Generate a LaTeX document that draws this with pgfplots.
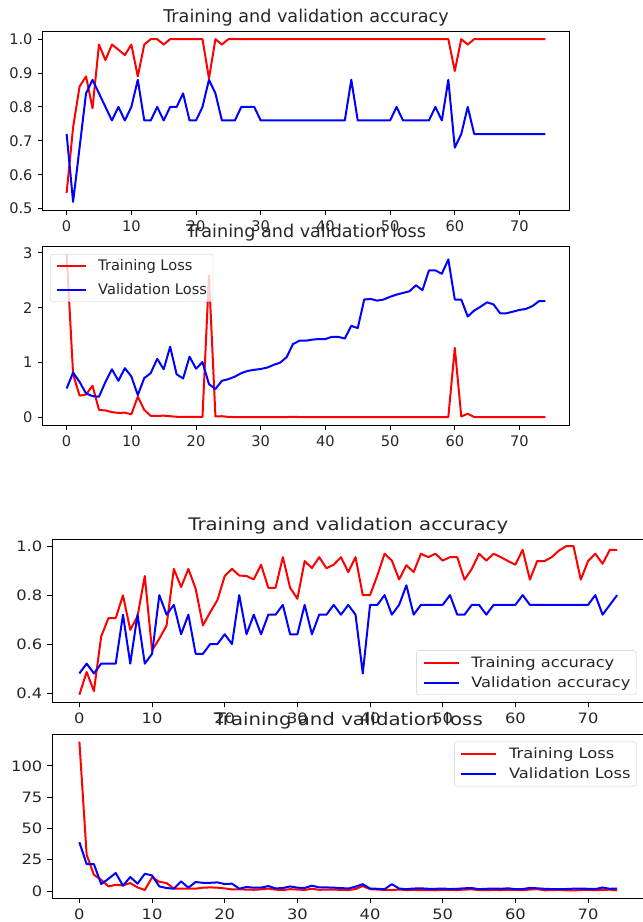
\documentclass[border=0pt]{standalone}
\usepackage{fontspec}
\setmainfont{DejaVu Sans}
\newfontfamily\stretchfont[FakeStretch=1.14]{DejaVu Sans}
\usepackage{pgfplots}
\pgfplotsset{compat=1.18}

\newcommand\tfont{\fontsize{14.6bp}{17bp}\selectfont}
\newcommand\ttfont{\fontsize{17.6bp}{21bp}\selectfont}
\newcommand\bfont{\stretchfont\fontsize{14.3bp}{17bp}\selectfont}
\newcommand\btfont{\stretchfont\fontsize{17.3bp}{21bp}\selectfont}

\definecolor{txt}{HTML}{262626}
\definecolor{legframe}{HTML}{CCCCCC}

\pgfplotsset{
 mpl/.style={
  scale only axis,
  xmin=-3.7, xmax=77.7,
  tick align=outside, tick pos=left,
  major tick length=5bp,
  tick style={black, line width=0.9bp},
  axis line style={black, line width=0.9bp},
  xtick={0,10,20,30,40,50,60,70},
  xticklabels={0,10,20,30,40,50,60,70},
  xticklabel style={inner sep=0pt, yshift=-5bp, text=txt},
  yticklabel style={inner sep=0pt, xshift=-5bp, text=txt},
  title style={at={(0.5,1)}, anchor=base, yshift=3bp, inner sep=0pt, text=txt},
  legend cell align=left,
  legend style={draw=legframe, fill=white, fill opacity=0.8,
    text opacity=1, rounded corners=2.5bp, inner xsep=6bp, text=txt,
    nodes={inner sep=0pt, text height=12bp, text depth=3bp}},
 },
 toppanel/.style={mpl, width=526.6bp, height=179bp,
  tick label style={font=\tfont}, title style={font=\ttfont},
  legend style={font=\tfont, inner ysep=4.5bp, row sep=8.3bp, column sep=11bp},
  legend image code/.code={\draw[##1] (0bp,0bp) -- (29bp,0bp);}},
 botpanel/.style={mpl, width=591.5bp,
  tick label style={font=\bfont}, title style={font=\btfont},
  legend style={font=\bfont, inner ysep=4.6bp, row sep=5bp, column sep=11.7bp},
  legend image code/.code={\draw[##1] (0bp,0bp) -- (35bp,0bp);}},
 rl/.style={red, line width=2bp, line join=round},
 bl/.style={blue, line width=2bp, line join=round},
}

\begin{document}
\begin{tikzpicture}
\useasboundingbox (0,0) rectangle (643bp,922bp);

% ---------------- Panel 1 ----------------
\begin{axis}[toppanel, at={(42.7bp,712bp)}, anchor=south west,
  ymin=0.496, ymax=1.024,
  ytick={0.5,0.6,0.7,0.8,0.9,1.0}, yticklabels={0.5,0.6,0.7,0.8,0.9,1.0},
  title={Training and validation accuracy}]
\addplot[rl] coordinates {(0,0.546)(1,0.74)(2,0.86)(3,0.89)(4,0.796)(5,0.984)(6,0.938)(7,0.984)(8,0.969)(9,0.953)(10,0.984)(11,0.89)(12,0.984)(13,1)(14,1)(15,0.984)(16,1)(17,1)(18,1)(19,1)(20,1)(21,1)(22,0.884)(23,1)(24,0.984)(25,1)(26,1)(27,1)(28,1)(29,1)(30,1)(31,1)(32,1)(33,1)(34,1)(35,1)(36,1)(37,1)(38,1)(39,1)(40,1)(41,1)(42,1)(43,1)(44,1)(45,1)(46,1)(47,1)(48,1)(49,1)(50,1)(51,1)(52,1)(53,1)(54,1)(55,1)(56,1)(57,1)(58,1)(59,1)(60,0.906)(61,1)(62,0.984)(63,1)(64,1)(65,1)(66,1)(67,1)(68,1)(69,1)(70,1)(71,1)(72,1)(73,1)(74,1)};
\addplot[bl] coordinates {(0,0.72)(1,0.52)(2,0.68)(3,0.84)(4,0.88)(5,0.84)(6,0.80)(7,0.76)(8,0.80)(9,0.76)(10,0.80)(11,0.88)(12,0.76)(13,0.76)(14,0.80)(15,0.76)(16,0.80)(17,0.80)(18,0.84)(19,0.76)(20,0.76)(21,0.80)(22,0.88)(23,0.84)(24,0.76)(25,0.76)(26,0.76)(27,0.80)(28,0.80)(29,0.80)(30,0.76)(31,0.76)(32,0.76)(33,0.76)(34,0.76)(35,0.76)(36,0.76)(37,0.76)(38,0.76)(39,0.76)(40,0.76)(41,0.76)(42,0.76)(43,0.76)(44,0.88)(45,0.76)(46,0.76)(47,0.76)(48,0.76)(49,0.76)(50,0.76)(51,0.80)(52,0.76)(53,0.76)(54,0.76)(55,0.76)(56,0.76)(57,0.80)(58,0.76)(59,0.88)(60,0.68)(61,0.72)(62,0.80)(63,0.72)(64,0.72)(65,0.72)(66,0.72)(67,0.72)(68,0.72)(69,0.72)(70,0.72)(71,0.72)(72,0.72)(73,0.72)(74,0.72)};
\end{axis}

% ---------------- Panel 2 ----------------
\begin{axis}[toppanel, at={(42.7bp,497bp)}, anchor=south west,
  ymin=-0.135, ymax=3.125,
  ytick={0,1,2,3}, yticklabels={0,1,2,3},
  title={Training and validation loss},
  legend style={at={(0.0139,0.955)}, anchor=north west}]
\addplot[rl] coordinates {(0,2.98)(1,0.79)(2,0.40)(3,0.42)(4,0.58)(5,0.14)(6,0.13)(7,0.10)(8,0.085)(9,0.09)(10,0.06)(11,0.38)(12,0.14)(13,0.03)(14,0.03)(15,0.035)(16,0.025)(17,0.015)(18,0.015)(19,0.015)(20,0.015)(21,0.015)(22,2.59)(23,0.02)(24,0.025)(25,0.012)(26,0.01)(27,0.01)(28,0.01)(29,0.01)(30,0.01)(31,0.01)(32,0.01)(33,0.01)(34,0.01)(35,0.012)(36,0.01)(37,0.01)(38,0.01)(39,0.01)(40,0.01)(41,0.01)(42,0.01)(43,0.01)(44,0.01)(45,0.01)(46,0.01)(47,0.01)(48,0.01)(49,0.01)(50,0.01)(51,0.01)(52,0.01)(53,0.01)(54,0.01)(55,0.01)(56,0.01)(57,0.01)(58,0.01)(59,0.01)(60,1.27)(61,0.02)(62,0.07)(63,0.01)(64,0.01)(65,0.01)(66,0.01)(67,0.01)(68,0.01)(69,0.01)(70,0.01)(71,0.01)(72,0.01)(73,0.01)(74,0.01)};
\addlegendentry{Training Loss}
\addplot[bl] coordinates {(0,0.53)(1,0.82)(2,0.65)(3,0.44)(4,0.39)(5,0.38)(6,0.65)(7,0.88)(8,0.67)(9,0.90)(10,0.75)(11,0.41)(12,0.72)(13,0.81)(14,1.07)(15,0.88)(16,1.29)(17,0.79)(18,0.71)(19,1.11)(20,0.89)(21,1.01)(22,0.61)(23,0.52)(24,0.67)(25,0.70)(26,0.745)(27,0.81)(28,0.85)(29,0.87)(30,0.885)(31,0.91)(32,0.96)(33,1.00)(34,1.10)(35,1.34)(36,1.40)(37,1.40)(38,1.42)(39,1.43)(40,1.43)(41,1.47)(42,1.47)(43,1.44)(44,1.67)(45,1.63)(46,2.15)(47,2.16)(48,2.13)(49,2.15)(50,2.20)(51,2.24)(52,2.27)(53,2.30)(54,2.41)(55,2.32)(56,2.68)(57,2.68)(58,2.62)(59,2.88)(60,2.15)(61,2.15)(62,1.84)(63,1.95)(64,2.02)(65,2.10)(66,2.06)(67,1.90)(68,1.90)(69,1.93)(70,1.96)(71,1.98)(72,2.03)(73,2.12)(74,2.12)};
\addlegendentry{Validation Loss}
\end{axis}

% ---------------- Panel 3 ----------------
\begin{axis}[botpanel, height=163bp, at={(52.5bp,219.7bp)}, anchor=south west,
  ymin=0.362, ymax=1.028,
  ytick={0.4,0.6,0.8,1.0}, yticklabels={0.4,0.6,0.8,1.0},
  title={Training and validation accuracy},
  legend style={at={(0.9877,0.0448)}, anchor=south east}]
\addplot[rl] coordinates {(0,0.393)(1,0.486)(2,0.408)(3,0.631)(4,0.706)(5,0.706)(6,0.799)(7,0.658)(8,0.713)(9,0.878)(10,0.574)(11,0.622)(12,0.676)(13,0.907)(14,0.833)(15,0.907)(16,0.826)(17,0.676)(18,0.73)(19,0.78)(20,0.878)(21,0.907)(22,0.88)(23,0.878)(24,0.864)(25,0.924)(26,0.83)(27,0.83)(28,0.955)(29,0.83)(30,0.785)(31,0.939)(32,0.91)(33,0.955)(34,0.91)(35,0.924)(36,0.955)(37,0.894)(38,0.955)(39,0.80)(40,0.80)(41,0.88)(42,0.969)(43,0.941)(44,0.864)(45,0.922)(46,0.894)(47,0.969)(48,0.955)(49,0.969)(50,0.941)(51,0.955)(52,0.955)(53,0.863)(54,0.907)(55,0.969)(56,0.941)(57,0.969)(58,0.955)(59,0.939)(60,0.924)(61,0.985)(62,0.863)(63,0.939)(64,0.939)(65,0.955)(66,0.982)(67,1.0)(68,1.0)(69,0.863)(70,0.939)(71,0.969)(72,0.928)(73,0.985)(74,0.985)};
\addlegendentry{Training accuracy}
\addplot[bl] coordinates {(0,0.48)(1,0.52)(2,0.48)(3,0.52)(4,0.52)(5,0.52)(6,0.72)(7,0.52)(8,0.72)(9,0.52)(10,0.56)(11,0.80)(12,0.72)(13,0.76)(14,0.64)(15,0.72)(16,0.56)(17,0.56)(18,0.60)(19,0.60)(20,0.64)(21,0.60)(22,0.80)(23,0.64)(24,0.72)(25,0.64)(26,0.72)(27,0.72)(28,0.76)(29,0.64)(30,0.64)(31,0.76)(32,0.64)(33,0.72)(34,0.72)(35,0.76)(36,0.72)(37,0.76)(38,0.72)(39,0.48)(40,0.76)(41,0.76)(42,0.80)(43,0.72)(44,0.76)(45,0.84)(46,0.72)(47,0.76)(48,0.76)(49,0.76)(50,0.76)(51,0.80)(52,0.72)(53,0.72)(54,0.76)(55,0.76)(56,0.72)(57,0.76)(58,0.76)(59,0.76)(60,0.76)(61,0.80)(62,0.76)(63,0.76)(64,0.76)(65,0.76)(66,0.76)(67,0.76)(68,0.76)(69,0.76)(70,0.76)(71,0.80)(72,0.72)(73,0.76)(74,0.80)};
\addlegendentry{Validation accuracy}
\end{axis}

% ---------------- Panel 4 ----------------
\begin{axis}[botpanel, height=164bp, at={(52.5bp,23.7bp)}, anchor=south west,
  ymin=-5.8, ymax=125.3,
  ytick={0,25,50,75,100}, yticklabels={0,25,50,75,100},
  title={Training and validation loss},
  legend style={at={(0.9877,0.955)}, anchor=north east}]
\addplot[rl] coordinates {(0,119.4)(1,29)(2,13)(3,9)(4,3.7)(5,5)(6,4.5)(7,6.4)(8,2.9)(9,0.8)(10,10.9)(11,7.4)(12,6.4)(13,1.9)(14,1.9)(15,1.9)(16,1.9)(17,2.7)(18,2.9)(19,2.7)(20,2.1)(21,1.3)(22,1.3)(23,1.2)(24,1.0)(25,1.3)(26,2.0)(27,1.1)(28,0.8)(29,1.5)(30,1.2)(31,0.9)(32,1.8)(33,1.0)(34,1.1)(35,1.2)(36,0.9)(37,0.8)(38,1.6)(39,4.0)(40,1.5)(41,1.2)(42,0.9)(43,0.8)(44,1.2)(45,0.8)(46,0.9)(47,0.7)(48,0.8)(49,0.6)(50,1.0)(51,0.9)(52,0.8)(53,1.2)(54,1.3)(55,0.8)(56,0.7)(57,0.9)(58,0.8)(59,1.0)(60,0.9)(61,0.7)(62,1.2)(63,1.5)(64,0.6)(65,0.7)(66,0.9)(67,0.6)(68,0.5)(69,0.8)(70,1.0)(71,0.7)(72,0.9)(73,1.1)(74,0.5)};
\addlegendentry{Training Loss}
\addplot[bl] coordinates {(0,39)(1,21.5)(2,21.5)(3,5.6)(4,9.8)(5,14.4)(6,4.3)(7,11.2)(8,5.9)(9,13.8)(10,12.5)(11,3.7)(12,2.4)(13,1.9)(14,7.7)(15,2.7)(16,7.2)(17,6.6)(18,6.6)(19,6.9)(20,5.6)(21,5.9)(22,1.9)(23,3.2)(24,2.7)(25,2.7)(26,4.0)(27,2.1)(28,2.4)(29,3.7)(30,2.7)(31,2.4)(32,4.3)(33,2.9)(34,2.9)(35,2.7)(36,2.4)(37,2.0)(38,3.5)(39,5.5)(40,2.0)(41,1.8)(42,1.5)(43,5.5)(44,2.0)(45,1.5)(46,2.0)(47,2.2)(48,1.8)(49,1.8)(50,2.0)(51,1.6)(52,1.8)(53,2.2)(54,2.4)(55,1.5)(56,1.8)(57,2.0)(58,1.8)(59,2.2)(60,1.5)(61,1.6)(62,2.5)(63,2.2)(64,1.8)(65,1.6)(66,1.5)(67,1.6)(68,1.9)(69,2.0)(70,1.8)(71,1.6)(72,2.8)(73,1.8)(74,2.0)};
\addlegendentry{Validation Loss}
\end{axis}
\end{tikzpicture}
\end{document}
